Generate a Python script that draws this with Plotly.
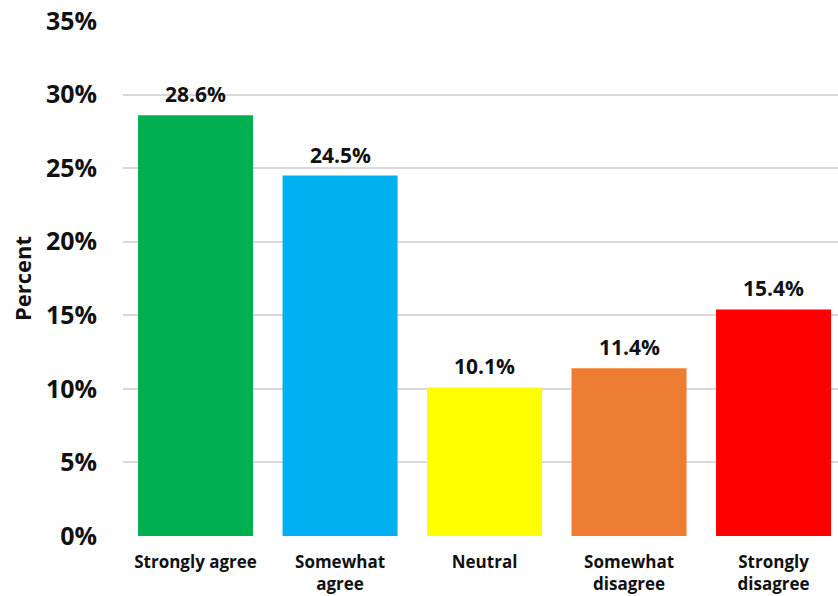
import plotly.graph_objects as go

categories = ["Strongly agree", "Somewhat<br>agree", "Neutral", "Somewhat<br>disagree", "Strongly<br>disagree"]
percents = [28.6, 24.5, 10.1, 11.4, 15.4]
colors = ["#00B050", "#00B0F0", "#FFFF00", "#ED7D31", "#FF0000"]
y_ticks = [0, 5, 10, 15, 20, 25, 30, 35]

FONT = "Open Sans"

fig = go.Figure(
    go.Bar(
        x=categories,
        y=percents,
        marker=dict(color=colors, line=dict(width=0)),
        width=0.796,
        hoverinfo="skip",
    )
)

# value labels above each bar
for cat, val in zip(categories, percents):
    fig.add_annotation(
        x=cat, y=val, text=f"{val:.1f}%", showarrow=False,
        yanchor="bottom", yshift=5,
        font=dict(family=FONT, size=21, color="#111111", weight="bold"),
    )

fig.update_layout(
    width=838, height=596,
    margin=dict(l=123, r=0, t=21, b=60),
    paper_bgcolor="white", plot_bgcolor="white",
    showlegend=False,
    bargap=0.2,
)

fig.update_xaxes(
    range=[-0.502, 4.446],
    showgrid=False, zeroline=False, showline=False,
    ticks="", ticklabelstandoff=14,
    tickfont=dict(family=FONT, size=17, color="#111111", weight="bold"),
    automargin=False,
)

fig.update_yaxes(
    range=[0, 35],
    tickvals=y_ticks,
    ticktext=[f"{v}%" for v in y_ticks],
    showgrid=True, gridcolor="#D9D9D9", gridwidth=1.5,
    zeroline=False, showline=False, ticks="",
    ticklabelstandoff=25,
    tickfont=dict(family=FONT, size=25, color="#111111", weight="bold"),
    title=dict(text="Percent", standoff=8,
               font=dict(family=FONT, size=22, color="#111111", weight="bold")),
    automargin=False,
)

fig.write_html("out.html")
